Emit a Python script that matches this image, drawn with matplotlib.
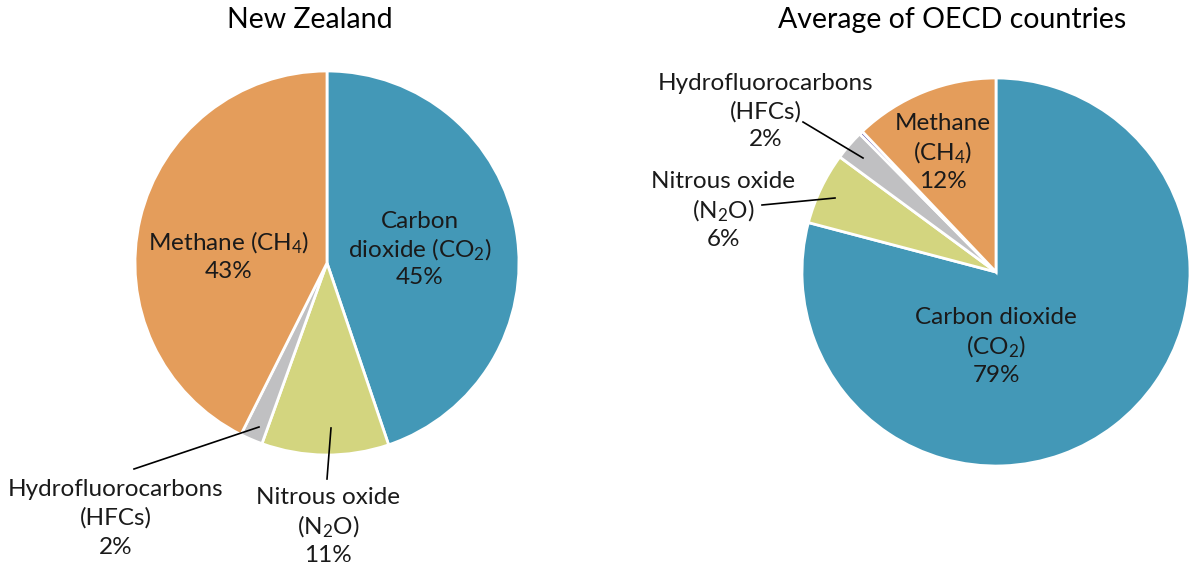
import matplotlib
matplotlib.use("Agg")
import matplotlib.pyplot as plt

plt.rcParams['font.family'] = ['Lato', 'DejaVu Sans']
plt.rcParams['mathtext.fontset'] = 'custom'
plt.rcParams['mathtext.rm'] = 'Lato'
plt.rcParams['mathtext.it'] = 'Lato'

# Data
nz_gases = ["Carbon dioxide", "Nitrous oxide", "Hydrofluorocarbons", "Methane"]
nz_values = [44.8, 10.7, 1.9, 42.6]
oecd_gases = ["Carbon dioxide", "Nitrous oxide", "Hydrofluorocarbons", "Other", "Methane"]
oecd_values = [79.1, 6.0, 2.5, 0.3, 12.1]

C_BLUE = "#4398B7"
C_GREEN = "#D3D57F"
C_GRAY = "#C0C0C2"
C_PURPLE = "#7466B0"
C_ORANGE = "#E49D5B"
nz_colors = [C_BLUE, C_GREEN, C_GRAY, C_ORANGE]
oecd_colors = [C_BLUE, C_GREEN, C_GRAY, C_PURPLE, C_ORANGE]

W, H = 1190, 564
fig = plt.figure(figsize=(W / 100, H / 100), dpi=100)
ax = fig.add_axes([0, 0, 1, 1])

def Y(py):
    return H - py

wp = dict(edgecolor="white", linewidth=2)
ax.pie(nz_values, colors=nz_colors, startangle=90, counterclock=False,
       center=(327, Y(263)), radius=192, wedgeprops=wp)
ax.pie(oecd_values, colors=oecd_colors, startangle=90, counterclock=False,
       center=(996, Y(272)), radius=194, wedgeprops=wp)
ax.set_xlim(0, W)
ax.set_ylim(0, H)
ax.set_aspect('equal')
ax.axis('off')

FS = 17.5
TFS = 20.5

def lines(x, ys, texts):
    for y, t in zip(ys, texts):
        ax.text(x, Y(y), t, ha='center', va='center', fontsize=FS, color="#1a1a1a")

# Titles
ax.text(310, Y(20), "New Zealand", ha='center', va='center', fontsize=TFS, color="black")
ax.text(952, Y(20), "Average of OECD countries", ha='center', va='center', fontsize=TFS, color="black")

# NZ labels
lines(420, [222, 250, 278], ["Carbon", "dioxide (CO$_2$)", "45%"])
lines(229, [243, 272], ["Methane (CH$_4$)", "43%"])
lines(116, [489, 518, 547], ["Hydrofluorocarbons", "(HFCs)", "2%"])
lines(328, [498, 527, 555], ["Nitrous oxide", "(N$_2$O)", "11%"])
ax.plot([134, 259], [Y(469), Y(427)], color="black", lw=1.2)
ax.plot([327, 331], [Y(479), Y(428)], color="black", lw=1.2)

# OECD labels
lines(766, [83, 112, 140], ["Hydrofluorocarbons", "(HFCs)", "2%"])
lines(723, [182, 211, 240], ["Nitrous oxide", "(N$_2$O)", "6%"])
lines(943, [123, 153, 182], ["Methane", "(CH$_4$)", "12%"])
lines(996, [317, 347, 375], ["Carbon dioxide", "(CO$_2$)", "79%"])
ax.plot([803, 863], [Y(122), Y(158)], color="black", lw=1.2)
ax.plot([762, 835], [Y(205), Y(198)], color="black", lw=1.2)

fig.savefig("out.png", dpi=100)
